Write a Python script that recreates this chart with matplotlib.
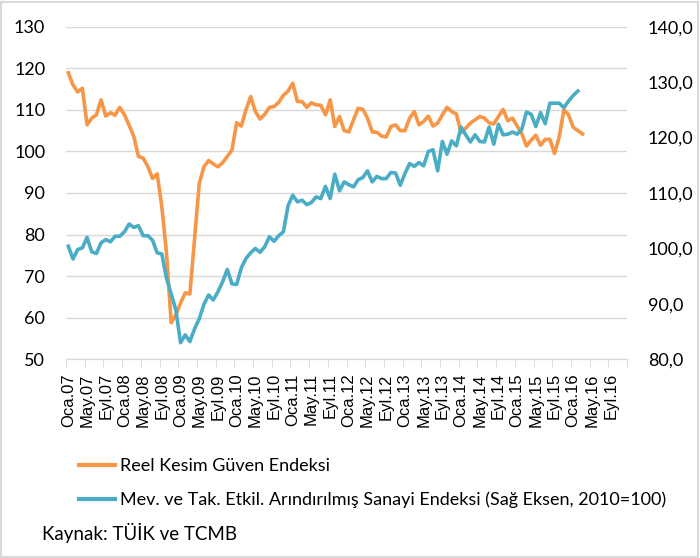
import matplotlib
matplotlib.use("Agg")
import matplotlib.pyplot as plt
from matplotlib.lines import Line2D
from matplotlib.patches import Rectangle

# months Oca.07 .. Ara.16
month_names = ['Oca', 'Şub', 'Mar', 'Nis', 'May', 'Haz',
               'Tem', 'Ağu', 'Eyl', 'Eki', 'Kas', 'Ara']
years = list(range(2007, 2017))
months = [f"{m}.{y % 100:02d}" for y in years for m in month_names]

# Reel Kesim Güven Endeksi (left axis), Oca.07 - Mar.16
reel_kesim = [118.9, 116.0, 114.3, 115.2, 106.4, 108.0, 108.8, 112.4, 108.5, 109.3,
              108.7, 110.6, 108.8, 106.3, 103.6, 98.8, 98.4, 96.4, 93.5, 94.6,
              86.7, 75.5, 58.8, 60.7, 63.5, 66.0, 65.7, 79.0, 92.3, 96.3,
              97.8, 97.0, 96.3, 97.3, 98.8, 100.3, 106.9, 106.1, 110.0, 113.2,
              109.6, 107.8, 108.9, 110.6, 110.8, 111.8, 113.5, 114.5, 116.4, 112.0,
              112.0, 110.6, 111.7, 111.2, 111.1, 108.8, 112.4, 106.0, 108.4, 105.0,
              104.7, 107.6, 110.4, 110.1, 108.0, 104.7, 104.6, 103.7, 103.5, 106.0,
              106.4, 105.0, 105.0, 108.0, 109.6, 106.4, 107.2, 108.5, 106.1, 106.8,
              108.8, 110.6, 109.6, 109.0, 104.5, 105.6, 106.8, 107.6, 108.4, 108.0,
              106.9, 106.6, 108.4, 110.1, 107.4, 108.0, 106.1, 104.3, 101.3, 102.7,
              103.9, 101.5, 102.9, 102.9, 99.5, 103.5, 110.0, 108.8, 105.8, 105.0,
              104.2]

# Sanayi endeksi (right axis, 2010=100), Oca.07 - Şub.16
sanayi = [100.4, 98.1, 99.8, 100.1, 102.0, 99.4, 99.1, 101.0, 101.6, 101.2,
          102.2, 102.2, 103.0, 104.4, 103.8, 104.1, 102.3, 102.3, 101.5, 99.2,
          99.0, 94.6, 91.8, 88.9, 83.0, 84.4, 83.2, 85.5, 87.3, 89.9,
          91.6, 90.7, 92.2, 94.0, 96.2, 93.6, 93.5, 96.5, 98.2, 99.2,
          100.0, 99.3, 100.3, 102.1, 101.3, 102.3, 103.0, 107.7, 109.6, 108.4,
          108.7, 107.9, 108.3, 109.3, 109.0, 111.2, 109.0, 113.4, 110.4, 112.0,
          111.5, 111.1, 112.4, 112.8, 114.0, 112.0, 113.0, 112.6, 112.6, 113.7,
          113.6, 111.4, 113.5, 115.3, 114.8, 115.5, 114.9, 117.5, 117.8, 114.0,
          119.3, 117.0, 119.4, 118.5, 121.9, 120.5, 119.2, 120.5, 119.3, 119.2,
          121.9, 118.8, 122.4, 120.5, 120.6, 121.0, 120.6, 121.5, 124.6, 124.2,
          122.0, 124.5, 122.5, 126.2, 126.2, 126.2, 125.4, 126.6, 127.6, 128.4]

label_1 = 'Reel Kesim Güven Endeksi'
label_2 = 'Mev. ve Tak. Etkil. Arındırılmış Sanayi Endeksi (Sağ Eksen, 2010=100)'
source = 'Kaynak: TÜİK ve TCMB'

orange = '#F79646'
blue = '#4BACC6'
grid_c = '#D9D9D9'
ui_font = 'Lato'

fig = plt.figure(figsize=(7, 5.58), dpi=100)
ax = fig.add_axes([66 / 700, 1 - 359.3 / 558, (627 - 66) / 700, (359.3 - 26.7) / 558])
ax2 = ax.twinx()

ax.plot(range(len(reel_kesim)), reel_kesim, color=orange, lw=2.6, solid_joinstyle='round')
ax2.plot(range(len(sanayi)), sanayi, color=blue, lw=2.6, solid_joinstyle='round')

ax.set_xlim(-0.5, len(months) - 0.5)
ax.set_ylim(50, 130)
ax2.set_ylim(80, 140)

ax.set_yticks(range(50, 131, 10))
ax2.set_yticks(range(80, 141, 10))
ax2.set_yticklabels([f"{v},0" for v in range(80, 141, 10)])
ax.grid(axis='y', color=grid_c, lw=1)
ax.set_axisbelow(True)

for a in (ax, ax2):
    for s in ('top', 'left', 'right'):
        a.spines[s].set_visible(False)
    a.spines['bottom'].set_color(grid_c)
ax.tick_params(axis='y', length=0, pad=15, labelsize=13)
ax2.tick_params(axis='y', length=0, pad=15, labelsize=13)
for t in ax.get_yticklabels() + ax2.get_yticklabels():
    t.set_fontfamily(ui_font)

pos = list(range(0, len(months), 4))
ax.set_xticks(pos)
ax.set_xticklabels([months[i] for i in pos], rotation=90, fontsize=12,
                   fontfamily='Liberation Sans')
ax.set_xticks([p - 0.5 for p in range(0, len(months) + 1, 4)], minor=True)
ax.tick_params(axis='x', which='major', length=0, pad=10)
ax.tick_params(axis='x', which='minor', length=6, color=grid_c)

handles = [Line2D([], [], color=orange, lw=3), Line2D([], [], color=blue, lw=3)]
fig.legend(handles, [label_1, label_2], loc='upper left',
           bbox_to_anchor=(72 / 700, 1 - 451 / 558), frameon=False,
           prop={'family': ui_font, 'size': 13}, handlelength=2.0,
           handletextpad=0.25, labelspacing=0.95, borderaxespad=0)
fig.text(42 / 700, 1 - 533 / 558, source, fontsize=13.5, family=ui_font, va='center')

fig.add_artist(Rectangle((1 / 700, 1 / 558), 697 / 700, 555 / 558, transform=fig.transFigure,
                         fill=False, edgecolor=grid_c, lw=1.5))

fig.savefig('out.png', dpi=100)
